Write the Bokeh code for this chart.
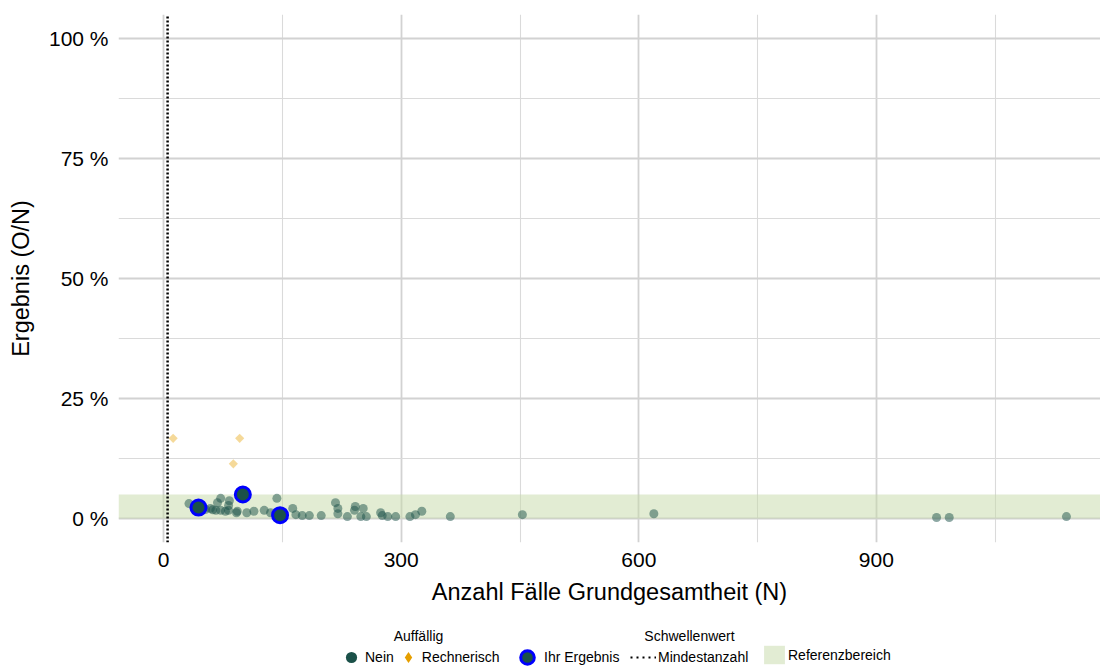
import math

from bokeh.plotting import figure
from bokeh.layouts import column
from bokeh.models import ColumnDataSource, FixedTicker, Label, Legend, LegendItem, Range1d
from bokeh.embed import file_html
from bokeh.resources import INLINE

# Standorte ohne Auffälligkeit: Fallzahl N und Ergebnis O/N in Prozent
nein_n = [32, 53, 59, 62, 66, 72, 78, 82, 68, 72, 83, 82, 93, 92, 105, 114, 127, 143, 135,
          163, 167, 175, 184, 199, 217, 220, 220, 232, 241, 242, 252, 249, 256, 274, 276,
          283, 293, 311, 318, 326, 362, 453, 619, 976, 992, 1140]
nein_pct = [3.1, 1.9, 2.1, 1.8, 1.7, 1.7, 1.5, 1.7, 3.3, 4.2, 3.7, 2.7, 1.5, 1.2, 1.2, 1.5, 1.7, 4.2, 1.2,
            2.1, 0.8, 0.6, 0.6, 0.6, 3.3, 2.1, 1.0, 0.4, 1.7, 2.5, 2.1, 0.4, 0.4, 1.2, 0.6,
            0.4, 0.4, 0.4, 0.8, 1.5, 0.4, 0.8, 1.0, 0.2, 0.2, 0.4]

# Rechnerisch auffällige Standorte
rechnerisch_n = [12, 88, 96]
rechnerisch_pct = [16.7, 11.4, 16.7]

# Eigene Ergebnisse
ihr_n = [44, 100, 147]
ihr_pct = [2.27, 5.0, 0.68]

# Schwellenwert und Referenzbereich
mindestanzahl = [5]
referenz_unten = [0]
referenz_oben = [5]

# Achsen
x_start, x_end = -57, 1183
y_start, y_end = -5, 105
x_ticks = [0, 300, 600, 900]
x_minor = [150, 450, 750, 1050]
y_ticks = [0, 25, 50, 75, 100]
y_tick_labels = ["0 %", "25 %", "50 %", "75 %", "100 %"]
y_minor = [12.5, 37.5, 62.5, 87.5]

FONT = "Liberation Sans"
GREEN = "#1b5149"
ORANGE = "#e69f00"
BLUE = "#0000ff"
BAND = "#c6daa8"

p = figure(width=1100, height=620,
           x_range=Range1d(x_start, x_end), y_range=Range1d(y_start, y_end),
           output_backend="svg", toolbar_location=None,
           min_border_left=118, min_border_right=0, min_border_top=14, min_border_bottom=78)
p.outline_line_color = None
p.background_fill_color = "white"
p.border_fill_color = "white"

# Gitter
x_ticker = FixedTicker(ticks=x_ticks, minor_ticks=x_minor)
y_ticker = FixedTicker(ticks=y_ticks, minor_ticks=y_minor)
p.xaxis.ticker = x_ticker
p.yaxis.ticker = y_ticker
p.xgrid.ticker = x_ticker
p.ygrid.ticker = y_ticker
for g in (p.xgrid, p.ygrid):
    g.grid_line_color = "#d2d2d2"
    g.grid_line_width = 1.8
    g.minor_grid_line_color = "#dadada"
    g.minor_grid_line_width = 1.1

# Achsen-Stil
for ax in (p.xaxis, p.yaxis):
    ax.axis_line_color = None
    ax.major_tick_line_color = None
    ax.minor_tick_line_color = None
    ax.major_tick_out = 0
    ax.major_tick_in = 0
    ax.minor_tick_out = 0
    ax.minor_tick_in = 0
    ax.major_label_text_font = FONT
    ax.major_label_text_font_size = "21px"
    ax.major_label_text_color = "black"
    ax.axis_label_text_font = FONT
    ax.axis_label_text_font_size = "23.5px"
    ax.axis_label_text_font_style = "normal"
    ax.axis_label_text_color = "black"
    ax.major_label_standoff = 10

p.xaxis.axis_label = "Anzahl Fälle Grundgesamtheit (N)"
p.yaxis.axis_label = "Ergebnis (O/N)"
p.xaxis.axis_label_standoff = 9
p.yaxis.axis_label_standoff = 12
p.yaxis.major_label_overrides = dict(zip(y_ticks, y_tick_labels))

# Referenzbereich als Band über die ganze Breite
p.quad(left=[x_start], right=[x_end], bottom=referenz_unten, top=referenz_oben,
       fill_color=BAND, fill_alpha=0.5, line_color=None)

# Mindestanzahl als senkrechte gepunktete Linie
p.segment(x0=mindestanzahl, y0=[y_start], x1=mindestanzahl, y1=[y_end],
          line_color="black", line_width=2.5, line_dash="2 2")

nein_src = ColumnDataSource(dict(n=nein_n, pct=nein_pct))
rech_src = ColumnDataSource(dict(n=rechnerisch_n, pct=rechnerisch_pct))
ihr_src = ColumnDataSource(dict(n=ihr_n, pct=ihr_pct))

p.scatter(x="n", y="pct", source=nein_src, marker="circle", size=9,
          fill_color=GREEN, fill_alpha=0.5, line_color=None)
p.scatter(x="n", y="pct", source=rech_src, marker="square", size=6.5, angle=math.pi / 4,
          fill_color=ORANGE, fill_alpha=0.4, line_color=None)
p.scatter(x="n", y="pct", source=ihr_src, marker="circle", size=15,
          fill_color=GREEN, line_color=BLUE, line_width=3)

# Legendenzeile unter dem Diagramm (Rahmen beginnt wie oben bei x = 118)
lg = figure(width=1100, height=46, x_range=Range1d(0, 1100), y_range=Range1d(0, 46),
            output_backend="svg", toolbar_location=None, min_border=0,
            x_axis_type=None, y_axis_type=None)
lg.outline_line_color = None
lg.xgrid.visible = False
lg.ygrid.visible = False
lg.background_fill_color = "white"
lg.border_fill_color = "white"

nein_leg = lg.scatter(x="n", y="pct", source=nein_src, marker="circle",
                      fill_color=GREEN, line_color=None, visible=False)
rech_leg = lg.scatter(x="n", y="pct", source=rech_src, marker="diamond",
                      fill_color=ORANGE, line_color=None, visible=False)
ihr_leg = lg.scatter(x="n", y="pct", source=ihr_src, marker="circle",
                     fill_color=GREEN, line_color=BLUE, line_width=3, visible=False)
mind_leg = lg.segment(x0=mindestanzahl, y0=referenz_unten, x1=mindestanzahl, y1=referenz_oben,
                      line_color="black", line_width=1.8, line_dash="2 4", visible=False)
band_leg = lg.quad(left=[x_start], right=[x_end], bottom=referenz_unten, top=referenz_oben,
                   fill_color=BAND, fill_alpha=0.5, line_color=None, visible=False)


def make_legend(items, loc, gw, gh, standoff, spacing=0):
    leg = Legend(items=items, location=loc, orientation="horizontal",
                 glyph_width=gw, glyph_height=gh, label_standoff=standoff, spacing=spacing,
                 padding=0, margin=0, border_line_color=None, background_fill_alpha=0,
                 label_text_font=FONT, label_text_font_size="14px", label_text_color="black",
                 label_height=16)
    lg.add_layout(leg)
    return leg


make_legend([LegendItem(label="Nein", renderers=[nein_leg]),
             LegendItem(label="Rechnerisch", renderers=[rech_leg])],
            (219, -5), 28, 28, 0, 0)
make_legend([LegendItem(label="Ihr Ergebnis", renderers=[ihr_leg])],
            (392, -8), 34, 34, 0)
make_legend([LegendItem(label="Mindestanzahl", renderers=[mind_leg])],
            (512, -1), 26, 20, 2)
make_legend([LegendItem(label="Referenzbereich", renderers=[band_leg])],
            (643, 0), 26, 23, 1)

for text, cx in (("Auffällig", 300), ("Schwellenwert", 571)):
    lg.add_layout(Label(x=cx, y=31, x_units="screen", y_units="screen", text=text,
                        text_align="center", text_baseline="middle",
                        text_font=FONT, text_font_size="14px", text_color="black"))

layout = column(p, lg, spacing=0)
open("out.html", "w").write(file_html(layout, INLINE))
